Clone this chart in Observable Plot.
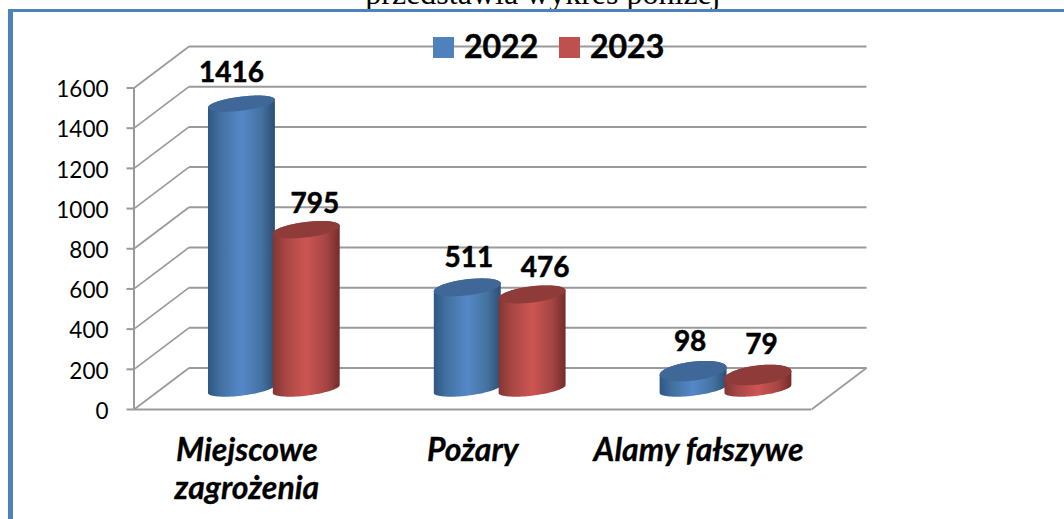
<!DOCTYPE html>
<html lang="pl">
<head>
<meta charset="utf-8">
<script src="https://cdn.jsdelivr.net/npm/d3@7"></script>
<script src="https://cdn.jsdelivr.net/npm/@observablehq/plot@0.6"></script>
<style>
  html, body { margin: 0; padding: 0; background: #fff; overflow: hidden; width: 1064px; height: 519px; }
  #wrap { position: relative; width: 1064px; height: 519px; overflow: hidden; }
  #chart svg { display: block; position: absolute; left: 0; top: 0; background: transparent; }
  #caption { position: absolute; left: 343px; width: 400px; top: -23.5px; white-space: nowrap; text-align: center;
    font: 32px/32px "Liberation Serif", serif; color: #000; }
  #frameTop { position: absolute; left: 8px; top: 9px; right: 0; height: 3px; background: #4f81bd; }
  #frameLeft { position: absolute; left: 8px; top: 9px; bottom: 0; width: 5px; background: #4f81bd; }
  .sw { position: absolute; top: 37px; width: 21px; height: 21px; }
  .lg { position: absolute; top: 26px; font: 700 32px/40px Lato, sans-serif; color: #000; -webkit-text-stroke: 0.5px #000; }
</style>
</head>
<body>
<div id="wrap">
  <div id="chart"></div>
  <div id="caption">przedstawia wykres poniżej</div>
  <div id="frameTop"></div>
  <div id="frameLeft"></div>
  <div class="sw" style="left:433px;background:#4f81bd"></div>
  <div class="lg" style="left:464px" id="lg0"></div>
  <div class="sw" style="left:559px;background:#c0504d"></div>
  <div class="lg" style="left:590px" id="lg1"></div>
</div>
<script>
const categories = ["Miejscowe\nzagrożenia", "Pożary", "Alamy fałszywe"];
const seriesNames = ["2022", "2023"];
const values2022 = [1416, 511, 98];
const values2023 = [795, 476, 79];
const yTicks = [0, 200, 400, 600, 800, 1000, 1200, 1400, 1600];

// Scale layout and the oblique projection of the chart's floor
const W = 1064, H = 519;
const mL = 133.5, mR = 253, mT = 87.5, mB = 110;
const pxX = (W - mL - mR) / 3;
const pxY = (H - mT - mB) / 1600;
const depthX = 55 / pxX, depthV = 41.5 / pxY;
const baseV = 19.5 / pxY;
const grey = "#9a9a9a";

document.getElementById("lg0").textContent = seriesNames[0];
document.getElementById("lg1").textContent = seriesNames[1];

const rows = [];
seriesNames.forEach((s, si) => {
  const vals = si === 0 ? values2022 : values2023;
  categories.forEach((c, ci) => rows.push({id: s + "-" + ci, s, si, ci, v: vals[ci]}));
});
const centre = d => d.ci + 0.5 + (d.si === 0 ? -0.146 : 0.141) + depthX / 2;

// tilted ellipse outline in data units
const A = 33.7, PHI = 7 * Math.PI / 180;
const topB = d3.scaleLinear([0, 500, 1416], [9.8, 8, 7]).clamp(true);
const persp = v => v * 1.01 - 5; // slight perspective rise of the cylinder tops
function ell(d, v, B, t) {
  const ax = A * Math.cos(t), by = B * Math.sin(t);
  const px = ax * Math.cos(PHI) + by * Math.sin(PHI);
  const py = -ax * Math.sin(PHI) + by * Math.cos(PHI); // screen px, downwards
  return {id: d.id, si: d.si, x: centre(d) + px / pxX, y: v + baseV - py / pxY};
}
const ts = n => d3.range(n + 1).map(i => i / n);
const bodyPts = [], topPts = [];
for (const d of rows) {
  const bB = 6.6, tB = topB(d.v), bot = 5, tp = persp(d.v);
  const t0b = Math.atan2(bB * Math.sin(PHI), A * Math.cos(PHI));
  const t0t = Math.atan2(tB * Math.sin(PHI), A * Math.cos(PHI));
  for (const f of ts(40)) bodyPts.push(ell(d, bot, bB, t0b + f * Math.PI));
  for (const f of ts(40)) bodyPts.push(ell(d, tp, tB, t0t + Math.PI + f * Math.PI));
  for (const f of ts(80)) topPts.push(ell(d, tp, tB, f * 2 * Math.PI));
}

// small per-label offsets (px) of the value labels from their cylinder
const labelDx = [[-10, 1.5, -3], [8.5, 13, 3.5]];
const labelDy = [[32, 29, 28], [26, 26, 29.5]];

const defs = () => d3.create("svg:defs").html(`
  <linearGradient id="gBlue" x1="0" x2="1" y1="0" y2="0">
    <stop offset="0" stop-color="#2e5684"/><stop offset=".18" stop-color="#41709f"/>
    <stop offset=".5" stop-color="#5588c9"/><stop offset=".8" stop-color="#44729f"/>
    <stop offset="1" stop-color="#2c4d76"/>
  </linearGradient>
  <linearGradient id="gRed" x1="0" x2="1" y1="0" y2="0">
    <stop offset="0" stop-color="#813634"/><stop offset=".2" stop-color="#a84745"/>
    <stop offset=".5" stop-color="#cd5552"/><stop offset=".8" stop-color="#a44543"/>
    <stop offset="1" stop-color="#732d2b"/>
  </linearGradient>`).node();

const wallV = yTicks.map(v => ({v}));
const bold = {fontFamily: "Lato, sans-serif", fontWeight: 700, fill: "#000"};

const cylinders = [0, 1].flatMap(si => [
  Plot.line(bodyPts.filter(p => p.si === si), {x: "x", y: "y", z: "id", fill: si === 0 ? "url(#gBlue)" : "url(#gRed)", stroke: "none"}),
  Plot.line(topPts.filter(p => p.si === si), {x: "x", y: "y", z: "id", fill: si === 0 ? "#3f6899" : "#8f3b39", stroke: "none"})
]);

const chart = Plot.plot({
  width: W, height: H,
  marginLeft: mL, marginRight: mR, marginTop: mT, marginBottom: mB,
  style: {background: "transparent", overflow: "visible"},
  x: {domain: [0, 3], axis: null},
  y: {domain: [0, 1600], axis: null},
  marks: [
    defs,
    // back wall lines
    Plot.link(wallV, {x1: depthX, x2: 3 + depthX, y1: d => d.v + depthV, y2: d => d.v + depthV, stroke: grey, strokeWidth: 2}),
    // side wall diagonals
    Plot.link(wallV, {x1: 0, x2: depthX, y1: "v", y2: d => d.v + depthV, stroke: grey, strokeWidth: 1.7}),
    // floor edges
    Plot.ruleY([0], {x1: 0, x2: 3, stroke: grey, strokeWidth: 2}),
    Plot.link([0], {x1: 3, x2: 3 + depthX, y1: 0, y2: depthV, stroke: grey, strokeWidth: 1.7}),
    // front axis
    Plot.ruleX([0], {y1: 0, y2: 1600, stroke: grey, strokeWidth: 2}),
    Plot.axisY({ticks: yTicks, tickSize: 7, stroke: grey, strokeWidth: 2, fill: "none", label: null, tickFormat: () => ""}),
    Plot.axisY({ticks: yTicks, tickSize: 0, tickPadding: 25.5, dy: 2, fontSize: 22.5, fontFamily: "Lato, sans-serif", fill: "#000", label: null, tickFormat: "d"}),
    ...cylinders,
    // value labels
    Plot.text(rows, {
      x: d => centre(d) + labelDx[d.si][d.ci] / pxX,
      y: d => d.v + baseV + labelDy[d.si][d.ci] / pxY,
      text: d => String(d.v), fontSize: 28, stroke: "#000", strokeWidth: 0.5, ...bold
    }),
    // category labels
    Plot.text(categories, {
      x: (d, i) => i + 0.5, y: () => 0, dy: 24, lineAnchor: "top", lineHeight: 1.19,
      text: d => d, fontSize: 32, fontStyle: "italic", stroke: "#000", strokeWidth: 0.3, ...bold
    })
  ]
});
document.getElementById("chart").appendChild(chart);
</script>
</body>
</html>
